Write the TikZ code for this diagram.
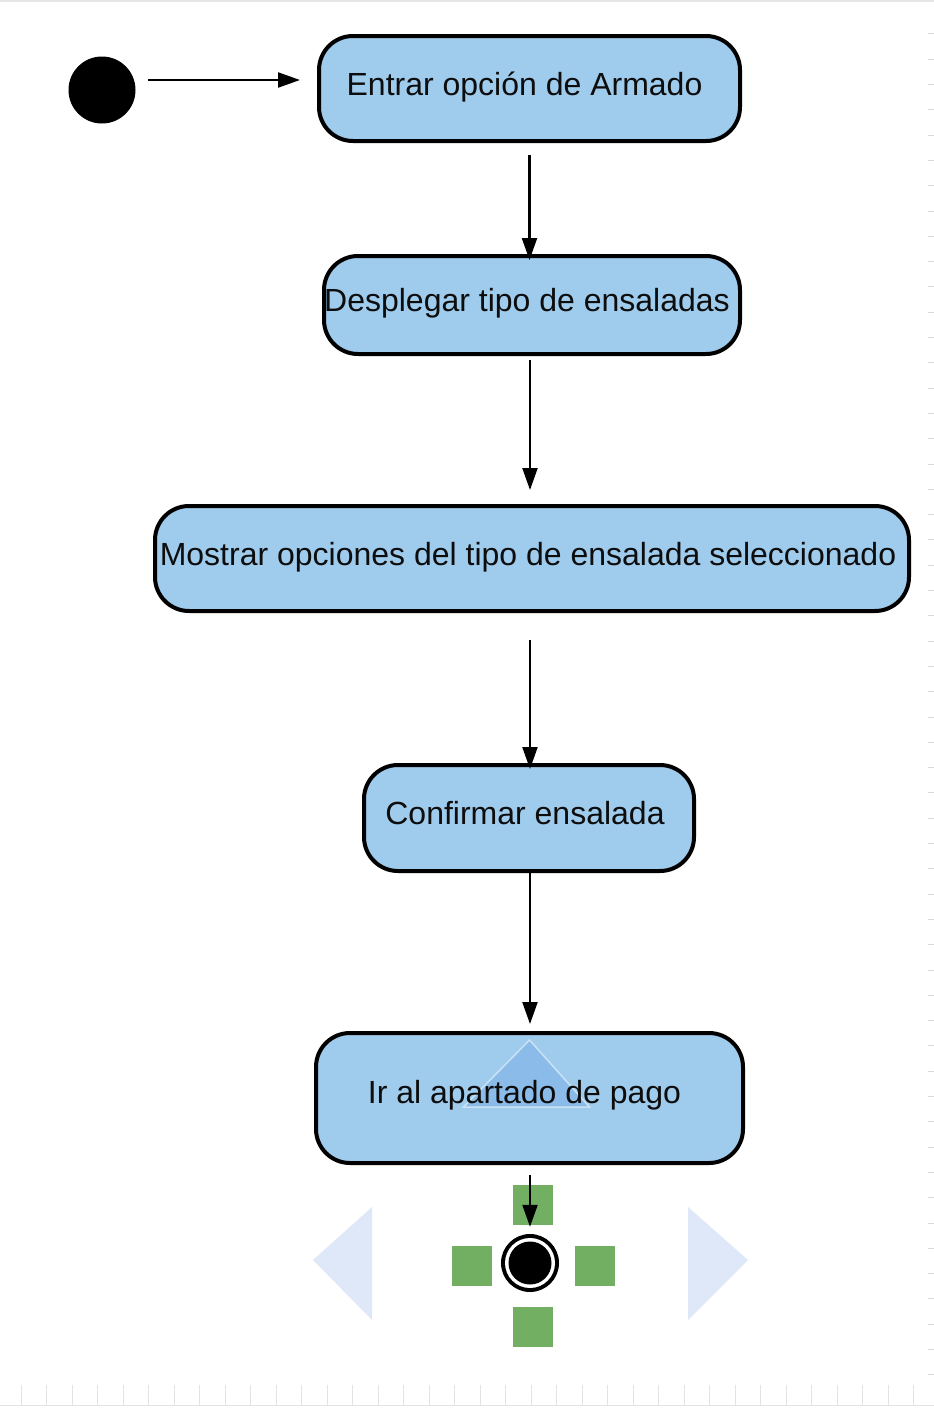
\documentclass[tikz,border=0pt]{standalone}
\usepackage{fontspec}
\setmainfont{Liberation Sans}
\usetikzlibrary{positioning,arrows.meta}
\definecolor{actfill}{RGB}{159,203,237}
\definecolor{padgreen}{RGB}{114,175,99}
\definecolor{ghost}{RGB}{223,232,248}
\definecolor{ghostin}{RGB}{139,187,233}
\newcommand{\lft}{\hspace*{10pt}}

\begin{document}
\begin{tikzpicture}[x=1pt,y=-1pt,
  action/.style={draw=black,line width=4pt,fill=actfill,rounded corners=34pt,inner sep=0pt,
    text depth=10pt,font=\fontsize{32}{38}\selectfont,text=black!95},
  flow/.style={line width=2.2pt,-{Triangle[length=22pt,width=15pt]}},
  pad/.style={fill=padgreen,minimum size=40pt,inner sep=0pt}]
\useasboundingbox[fill=white] (0,0) rectangle (934,1409);
%ruler marks
\draw[gray!20,line width=2pt] (0,1) -- (934,1);
\foreach \k in {0,...,35}
  \draw[gray!22,line width=0.8pt] (21.2+25.5*\k,1385) -- (21.2+25.5*\k,1405);
\draw[gray!22,line width=0.8pt] (0,1405) -- (934,1405);
\foreach \k in {1,...,54}
  \draw[gray!30,line width=0.8pt] (928,8.5+25.3*\k) -- (934,8.5+25.3*\k);
%start
\node[circle,fill=black,minimum size=67pt,inner sep=0pt] (inicio) at (102,90) {};
%actions
\node[action,minimum width=421pt,minimum height=105pt] (entrar) at (529.5,88.5) {Entrar opción de Armado\lft};
\node[action,minimum width=416pt,minimum height=98pt] (desplegar) at (532,305) {Desplegar tipo de ensaladas\lft};
\node[action,minimum width=754pt,minimum height=105pt] (mostrar) at (532,558.5) {Mostrar opciones del tipo de ensalada seleccionado\hspace*{8pt}};
\node[action,minimum width=330pt,minimum height=106pt] (confirmar) at (529,818) {Confirmar ensalada\hspace*{8pt}};
\node[action,minimum width=427pt,minimum height=130pt,text depth=13pt,
  path picture={\fill[ghostin,draw=white!45!actfill,line width=1.5pt,sharp corners]
    ([yshift=-7pt]path picture bounding box.north)
    -- ([xshift=60pt,yshift=-74pt]path picture bounding box.north)
    -- ([xshift=-66pt,yshift=-74pt]path picture bounding box.north) -- cycle;}]
  (pago) at (529.5,1098) {Ir al apartado de pago\lft};
%navigation marks
\fill[ghost] (313,1260) -- (372,1207) -- (372,1320) -- cycle;
\fill[ghost] (748,1260) -- (688,1207) -- (688,1320) -- cycle;
\node[pad] (padn) at (533,1204.5) {};
\node[pad] (padw) at (472,1266) {};
\node[pad] (pade) at (594.5,1266) {};
\node[pad] (pads) at (533,1327) {};
%end
\node[circle,fill=black,minimum size=58pt,inner sep=0pt] (fin) at (530,1263) {};
\fill[white] (fin) circle (25pt);
\fill[black] (fin) circle (21.5pt);
%arrows
\draw[flow,shorten <=12pt,shorten >=17pt] ([yshift=10pt]inicio.east) -- ([yshift=8.5pt]entrar.west);
\draw[flow,shorten <=12pt,shorten >=-6pt] (entrar.south |- 0,143) -- (entrar.south |- desplegar.north);
\draw[flow,shorten <=4pt,shorten >=14pt] (desplegar.south -| 530,0) -- (mostrar.north -| 530,0);
\draw[flow,shorten <=27pt,shorten >=-6pt] (mostrar.south -| 530,0) -- (confirmar.north -| 530,0);
\draw[flow,shorten >=7pt] (confirmar.south -| 530,0) -- (pago.north -| 530,0);
\draw[flow,shorten <=10pt,shorten >=7pt] (pago.south -| 530,0) -- (fin.north);
\end{tikzpicture}
\end{document}
